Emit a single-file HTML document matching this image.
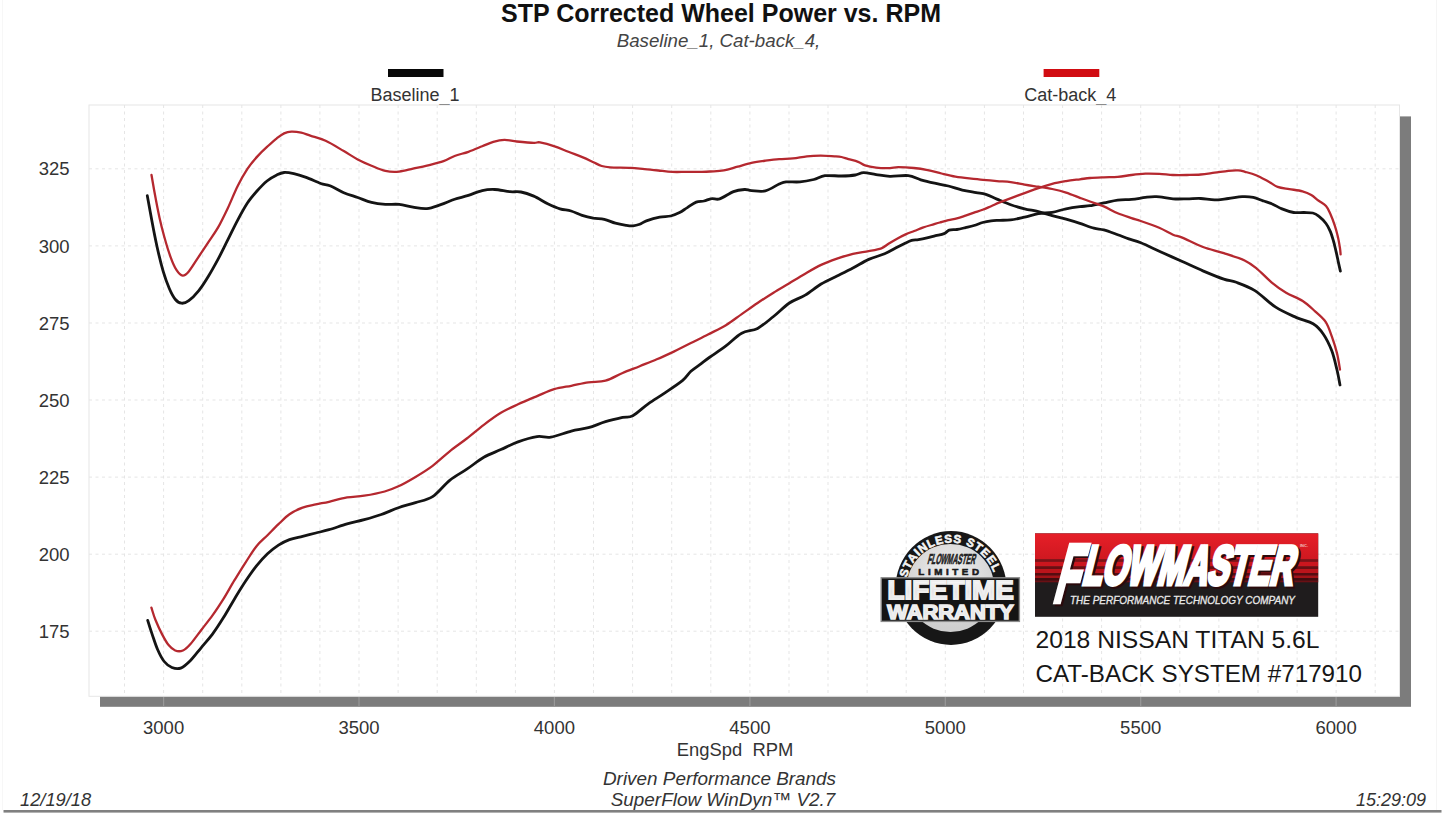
<!DOCTYPE html>
<html><head><meta charset="utf-8"><style>
html,body{margin:0;padding:0;background:#fff;}
body{width:1445px;height:819px;overflow:hidden;}
svg{display:block;font-family:"Liberation Sans",sans-serif;}
</style></head><body>
<svg width="1445" height="819" viewBox="0 0 1445 819">
<rect x="0" y="0" width="1445" height="819" fill="#fff"/>
<!-- titles -->
<text x="721" y="22" text-anchor="middle" font-weight="bold" font-size="25" fill="#111">STP Corrected Wheel Power vs. RPM</text>
<text x="718.5" y="46.5" text-anchor="middle" font-style="italic" font-size="18.7" fill="#444">Baseline_1, Cat-back_4,</text>
<!-- legend -->
<rect x="388" y="69" width="55.5" height="8" fill="#080808"/>
<text x="415" y="101" text-anchor="middle" font-size="18" fill="#333">Baseline_1</text>
<rect x="1043.6" y="69" width="55.7" height="8" fill="#d10c12"/>
<text x="1070.3" y="101" text-anchor="middle" font-size="18" fill="#333">Cat-back_4</text>
<!-- shadow -->
<rect x="100" y="116.4" width="1311" height="590.4" fill="#7c7c7c"/>
<g stroke="#989898" stroke-width="1.2"><line x1="163.6" y1="697" x2="163.6" y2="706"/><line x1="359.0" y1="697" x2="359.0" y2="706"/><line x1="554.4" y1="697" x2="554.4" y2="706"/><line x1="749.9" y1="697" x2="749.9" y2="706"/><line x1="945.3" y1="697" x2="945.3" y2="706"/><line x1="1140.7" y1="697" x2="1140.7" y2="706"/><line x1="1336.1" y1="697" x2="1336.1" y2="706"/></g>
<!-- plot -->
<rect x="89" y="105" width="1310.5" height="591.3" fill="#fff" stroke="#e6e6e6" stroke-width="1"/>
<g stroke="#e5e5e5" stroke-width="1" stroke-dasharray="3,3.5"><line x1="124.5" y1="105" x2="124.5" y2="696.3"/><line x1="163.6" y1="105" x2="163.6" y2="696.3"/><line x1="202.7" y1="105" x2="202.7" y2="696.3"/><line x1="241.8" y1="105" x2="241.8" y2="696.3"/><line x1="280.9" y1="105" x2="280.9" y2="696.3"/><line x1="319.9" y1="105" x2="319.9" y2="696.3"/><line x1="359.0" y1="105" x2="359.0" y2="696.3"/><line x1="398.1" y1="105" x2="398.1" y2="696.3"/><line x1="437.2" y1="105" x2="437.2" y2="696.3"/><line x1="476.3" y1="105" x2="476.3" y2="696.3"/><line x1="515.4" y1="105" x2="515.4" y2="696.3"/><line x1="554.4" y1="105" x2="554.4" y2="696.3"/><line x1="593.5" y1="105" x2="593.5" y2="696.3"/><line x1="632.6" y1="105" x2="632.6" y2="696.3"/><line x1="671.7" y1="105" x2="671.7" y2="696.3"/><line x1="710.8" y1="105" x2="710.8" y2="696.3"/><line x1="749.9" y1="105" x2="749.9" y2="696.3"/><line x1="789.0" y1="105" x2="789.0" y2="696.3"/><line x1="828.0" y1="105" x2="828.0" y2="696.3"/><line x1="867.1" y1="105" x2="867.1" y2="696.3"/><line x1="906.2" y1="105" x2="906.2" y2="696.3"/><line x1="945.3" y1="105" x2="945.3" y2="696.3"/><line x1="984.4" y1="105" x2="984.4" y2="696.3"/><line x1="1023.5" y1="105" x2="1023.5" y2="696.3"/><line x1="1062.6" y1="105" x2="1062.6" y2="696.3"/><line x1="1101.6" y1="105" x2="1101.6" y2="696.3"/><line x1="1140.7" y1="105" x2="1140.7" y2="696.3"/><line x1="1179.8" y1="105" x2="1179.8" y2="696.3"/><line x1="1218.9" y1="105" x2="1218.9" y2="696.3"/><line x1="1258.0" y1="105" x2="1258.0" y2="696.3"/><line x1="1297.1" y1="105" x2="1297.1" y2="696.3"/><line x1="1336.1" y1="105" x2="1336.1" y2="696.3"/><line x1="1375.2" y1="105" x2="1375.2" y2="696.3"/><line x1="89" y1="168.8" x2="1399.5" y2="168.8"/><line x1="89" y1="245.9" x2="1399.5" y2="245.9"/><line x1="89" y1="323.0" x2="1399.5" y2="323.0"/><line x1="89" y1="400.0" x2="1399.5" y2="400.0"/><line x1="89" y1="477.1" x2="1399.5" y2="477.1"/><line x1="89" y1="554.2" x2="1399.5" y2="554.2"/><line x1="89" y1="631.2" x2="1399.5" y2="631.2"/></g>
<g font-size="18.5" fill="#333"><text x="69.5" y="175.4" text-anchor="end">325</text><text x="69.5" y="252.5" text-anchor="end">300</text><text x="69.5" y="329.6" text-anchor="end">275</text><text x="69.5" y="406.6" text-anchor="end">250</text><text x="69.5" y="483.7" text-anchor="end">225</text><text x="69.5" y="560.8" text-anchor="end">200</text><text x="69.5" y="637.9" text-anchor="end">175</text></g>
<g font-size="18.5" fill="#333"><text x="163.6" y="734" text-anchor="middle">3000</text><text x="359.0" y="734" text-anchor="middle">3500</text><text x="554.4" y="734" text-anchor="middle">4000</text><text x="749.9" y="734" text-anchor="middle">4500</text><text x="945.3" y="734" text-anchor="middle">5000</text><text x="1140.7" y="734" text-anchor="middle">5500</text><text x="1336.1" y="734" text-anchor="middle">6000</text></g>
<text x="735" y="756" text-anchor="middle" font-size="18.4" fill="#333" xml:space="preserve">EngSpd  RPM</text>
<text x="719.5" y="785" text-anchor="middle" font-style="italic" font-size="18.9" fill="#333">Driven Performance Brands</text>
<text x="723" y="805.5" text-anchor="middle" font-style="italic" font-size="18.9" fill="#333">SuperFlow WinDyn™ V2.7</text>
<text x="20" y="806" font-style="italic" font-size="18.3" fill="#333">12/19/18</text>
<text x="1356" y="806" font-style="italic" font-size="18" fill="#333">15:29:09</text>
<rect x="3.5" y="810" width="1438" height="2.6" fill="#808080"/>
<rect x="1436" y="0" width="1" height="810" fill="#f5f5f5"/>
<rect x="2" y="0" width="1" height="810" fill="#f7f7f7"/>
<!-- curves -->
<g fill="none" stroke-linejoin="round" stroke-linecap="round">
<path d="M147.3,195.7 C148.1,200.2 150.6,214.0 152.2,222.6 C153.8,231.2 155.3,238.9 157.1,247.0 C158.9,255.1 161.2,264.5 163.2,271.4 C165.2,278.3 167.3,283.8 169.3,288.5 C171.3,293.2 173.4,297.1 175.4,299.5 C177.4,301.9 179.3,303.0 181.5,303.2 C183.7,303.4 186.0,302.8 188.8,300.7 C191.7,298.6 195.3,295.0 198.6,290.9 C201.9,286.8 205.2,281.6 208.4,276.3 C211.7,271.0 214.8,265.3 218.1,259.2 C221.3,253.1 224.6,246.2 227.9,239.7 C231.2,233.2 234.4,226.2 237.7,220.1 C240.9,214.0 244.2,207.9 247.4,203.0 C250.7,198.1 253.9,194.5 257.2,190.8 C260.5,187.1 263.7,183.7 267.0,181.0 C270.3,178.3 273.9,176.3 276.8,174.9 C279.7,173.5 281.3,172.7 284.1,172.5 C286.9,172.3 290.1,172.9 293.8,173.7 C297.5,174.5 301.6,175.8 306.1,177.4 C310.6,179.0 316.7,182.1 320.7,183.5 C324.7,184.9 326.1,184.2 330.0,185.7 C333.9,187.2 339.2,190.7 343.8,192.7 C348.4,194.7 353.1,195.9 357.7,197.5 C362.3,199.1 366.9,201.2 371.5,202.4 C376.1,203.6 380.8,204.1 385.4,204.4 C390.0,204.7 394.6,203.9 399.2,204.4 C403.8,204.9 408.4,206.5 413.0,207.2 C417.6,207.9 422.3,209.0 426.9,208.6 C431.5,208.2 436.1,206.2 440.7,204.7 C445.3,203.1 450.0,200.9 454.6,199.3 C459.2,197.8 463.8,196.9 468.4,195.4 C473.0,193.9 477.8,191.6 482.2,190.6 C486.6,189.6 490.1,189.3 494.7,189.5 C499.3,189.7 505.5,191.3 509.9,191.7 C514.3,192.1 517.0,191.3 521.0,192.0 C525.0,192.7 529.3,194.2 533.8,196.1 C538.2,198.0 543.3,201.6 547.7,203.7 C552.1,205.8 556.1,207.6 560.0,208.8 C563.9,210.0 567.4,209.9 571.1,211.0 C574.8,212.1 578.4,214.2 582.1,215.4 C585.8,216.6 589.5,217.5 593.2,218.2 C596.9,218.8 600.6,218.5 604.3,219.3 C608.0,220.1 611.7,222.2 615.4,223.2 C619.1,224.2 623.4,224.9 626.4,225.4 C629.4,225.9 630.9,226.1 633.1,225.9 C635.3,225.7 637.5,225.1 639.7,224.3 C641.9,223.5 643.1,222.1 646.4,220.9 C649.7,219.7 655.7,217.9 659.7,217.1 C663.8,216.3 667.4,216.8 670.7,216.0 C674.0,215.2 676.8,214.0 679.6,212.6 C682.4,211.2 684.5,209.3 687.3,207.6 C690.1,205.8 693.4,203.2 696.2,202.1 C699.0,201.0 701.4,201.6 704.0,201.0 C706.6,200.4 709.1,198.9 711.7,198.6 C714.3,198.2 716.1,200.1 719.7,198.9 C723.3,197.7 729.4,193.2 733.5,191.6 C737.6,190.0 741.6,189.7 744.6,189.5 C747.6,189.3 748.0,190.4 751.5,190.6 C755.0,190.8 760.8,192.0 765.4,190.9 C770.0,189.8 775.8,185.5 779.2,184.0 C782.7,182.5 782.6,182.2 786.1,181.9 C789.6,181.6 795.4,182.3 800.0,181.9 C804.6,181.5 809.6,180.5 813.8,179.5 C817.9,178.5 820.3,176.3 824.9,175.7 C829.5,175.1 836.4,176.1 841.5,176.0 C846.6,175.9 851.6,175.6 855.3,175.0 C859.0,174.4 860.1,172.7 863.6,172.6 C867.1,172.5 871.7,174.0 876.1,174.6 C880.5,175.2 884.5,176.2 889.9,176.4 C895.3,176.6 903.1,175.0 908.3,175.6 C913.4,176.2 916.4,178.5 920.8,179.8 C925.2,181.1 930.0,182.2 934.6,183.2 C939.2,184.2 943.8,184.8 948.4,186.0 C953.0,187.2 957.7,189.0 962.3,190.1 C966.9,191.2 972.2,191.9 976.1,192.6 C980.0,193.3 982.3,193.2 985.8,194.3 C989.3,195.4 992.8,197.4 996.9,199.1 C1001.0,200.8 1006.1,203.1 1010.7,204.7 C1015.3,206.3 1020.0,207.7 1024.6,208.8 C1029.2,210.0 1033.8,210.4 1038.4,211.6 C1043.0,212.8 1047.6,214.4 1052.2,215.7 C1056.8,217.0 1061.5,217.9 1066.1,219.2 C1070.7,220.5 1075.3,221.9 1079.9,223.4 C1084.5,224.9 1089.8,227.1 1093.8,228.2 C1097.8,229.3 1099.8,228.8 1103.8,229.9 C1107.8,231.0 1113.5,233.2 1117.7,234.7 C1121.9,236.2 1125.0,237.6 1128.8,238.9 C1132.6,240.2 1135.3,240.6 1140.8,242.8 C1146.2,245.0 1154.6,249.1 1161.5,252.2 C1168.4,255.3 1175.4,258.4 1182.3,261.5 C1189.2,264.6 1196.1,267.9 1203.0,270.9 C1209.9,273.8 1218.2,277.3 1223.8,279.2 C1229.3,281.1 1231.1,280.4 1236.3,282.3 C1241.5,284.2 1248.3,286.5 1254.9,290.6 C1261.5,294.8 1268.8,302.7 1275.7,307.2 C1282.6,311.7 1290.3,314.8 1296.5,317.6 C1302.7,320.4 1308.6,321.0 1313.1,323.8 C1317.6,326.6 1320.3,329.7 1323.4,334.2 C1326.5,338.7 1329.5,344.9 1331.8,350.8 C1334.0,356.7 1335.5,363.8 1336.9,369.5 C1338.3,375.2 1339.5,382.4 1340.0,385.0" stroke="#141414" stroke-width="2.8"/>
<path d="M147.7,620.4 C148.4,622.7 150.4,629.2 152.1,634.1 C153.8,639.0 155.6,644.9 157.6,649.5 C159.6,654.1 161.8,658.5 164.2,661.5 C166.6,664.5 169.2,666.4 171.9,667.5 C174.7,668.6 177.6,669.3 180.7,668.1 C183.8,666.9 187.0,663.9 190.5,660.4 C194.0,656.9 197.8,651.7 201.5,647.3 C205.2,642.9 208.8,639.0 212.5,634.1 C216.2,629.2 219.8,623.5 223.5,617.6 C227.2,611.7 230.8,605.0 234.5,598.9 C238.2,592.8 241.8,586.8 245.5,581.3 C249.2,575.8 252.8,570.5 256.5,565.9 C260.2,561.3 263.8,557.3 267.5,553.8 C271.2,550.3 274.8,547.5 278.5,545.1 C282.2,542.7 285.5,541.1 289.5,539.6 C293.5,538.1 298.2,537.4 302.6,536.3 C307.0,535.2 311.4,534.1 315.8,533.0 C320.2,531.9 323.8,531.2 329.0,529.7 C334.2,528.2 341.2,525.6 347.1,523.9 C353.0,522.2 358.5,521.3 364.2,519.7 C369.9,518.1 375.6,516.5 381.3,514.5 C387.0,512.5 392.7,509.7 398.4,507.7 C404.1,505.7 409.8,504.5 415.5,502.6 C421.2,500.8 426.9,500.3 432.6,496.6 C438.3,492.9 444.0,484.9 449.7,480.3 C455.4,475.7 461.1,473.0 466.8,469.2 C472.5,465.4 478.1,460.6 483.8,457.3 C489.5,454.0 495.2,452.2 500.9,449.6 C506.6,447.0 512.0,444.1 518.0,441.9 C524.0,439.7 531.6,437.4 537.1,436.6 C542.6,435.8 545.1,438.0 550.8,437.1 C556.5,436.2 565.0,432.7 571.3,431.1 C577.6,429.5 582.7,429.3 588.4,427.7 C594.1,426.1 599.8,423.4 605.5,421.7 C611.2,420.0 618.1,418.4 622.6,417.4 C627.1,416.4 628.5,418.0 632.8,415.7 C637.1,413.4 642.8,407.6 648.2,403.8 C653.6,400.0 659.6,396.5 665.3,392.6 C671.0,388.8 678.1,384.2 682.4,380.7 C686.7,377.1 687.8,374.1 690.9,371.3 C694.0,368.5 698.0,366.0 701.2,363.6 C704.4,361.2 705.9,359.9 710.0,357.0 C714.1,354.1 720.6,349.9 725.9,345.9 C731.2,341.9 736.4,336.1 741.7,333.2 C747.0,330.3 752.3,331.2 757.6,328.4 C762.9,325.6 768.2,320.7 773.5,316.5 C778.8,312.3 784.1,306.6 789.4,303.0 C794.7,299.4 799.9,298.3 805.2,295.1 C810.5,291.9 815.8,287.2 821.1,284.0 C826.4,280.8 831.7,278.6 837.0,276.0 C842.3,273.4 847.6,270.9 852.9,268.1 C858.2,265.3 863.4,261.8 868.7,259.4 C874.0,257.0 879.9,255.8 884.6,253.8 C889.3,251.8 893.6,249.1 897.1,247.3 C900.6,245.5 903.2,244.2 905.6,243.0 C908.0,241.8 909.5,241.0 911.6,240.4 C913.8,239.8 915.9,240.0 918.5,239.6 C921.1,239.2 924.1,238.6 927.0,237.9 C929.9,237.2 932.8,236.4 935.6,235.7 C938.5,235.0 941.8,234.5 944.1,233.6 C946.4,232.7 947.1,230.9 949.2,230.2 C951.3,229.5 954.2,229.9 956.9,229.5 C959.6,229.1 962.6,228.3 965.5,227.6 C968.4,226.9 971.1,226.3 974.0,225.5 C976.9,224.7 979.8,223.3 982.6,222.5 C985.5,221.7 988.2,221.2 991.1,220.8 C994.0,220.4 996.7,220.5 1000.0,220.3 C1003.3,220.2 1006.6,220.4 1010.7,219.9 C1014.8,219.4 1020.0,218.1 1024.6,217.1 C1029.2,216.1 1033.8,214.5 1038.4,213.7 C1043.0,212.9 1047.6,213.1 1052.2,212.3 C1056.8,211.5 1061.5,209.7 1066.1,208.8 C1070.7,207.9 1075.9,207.2 1079.9,206.7 C1083.9,206.2 1086.0,206.3 1090.0,205.7 C1094.0,205.1 1099.2,203.8 1103.8,202.9 C1108.4,202.0 1113.1,200.7 1117.7,200.1 C1122.3,199.5 1126.9,199.8 1131.5,199.4 C1136.1,199.0 1141.2,197.9 1145.4,197.4 C1149.6,196.9 1151.8,196.5 1156.4,196.7 C1161.0,196.9 1167.9,198.5 1173.0,198.8 C1178.1,199.2 1182.3,198.9 1186.9,198.8 C1191.5,198.8 1196.1,198.3 1200.7,198.5 C1205.3,198.7 1210.0,199.9 1214.6,199.9 C1219.2,199.9 1223.8,199.0 1228.4,198.5 C1233.0,198.0 1238.1,196.9 1242.2,196.7 C1246.3,196.5 1249.8,196.7 1253.3,197.4 C1256.8,198.1 1259.9,199.8 1263.0,200.8 C1266.1,201.9 1268.5,202.3 1271.7,203.7 C1274.9,205.0 1278.3,207.4 1282.0,208.9 C1285.7,210.4 1290.0,211.9 1293.7,212.5 C1297.4,213.1 1300.8,212.4 1304.0,212.5 C1307.2,212.6 1310.3,212.4 1312.8,213.0 C1315.2,213.6 1316.5,214.4 1318.7,216.2 C1320.9,217.9 1324.0,220.9 1326.0,223.5 C1328.0,226.1 1329.2,228.8 1330.4,231.6 C1331.6,234.4 1332.3,237.0 1333.3,240.4 C1334.3,243.8 1335.3,248.4 1336.2,252.1 C1337.1,255.8 1337.7,259.2 1338.4,262.4 C1339.1,265.6 1340.1,269.7 1340.4,271.2" stroke="#141414" stroke-width="2.8"/>
<path d="M151.5,175.0 C152.0,178.1 153.4,186.2 154.7,193.3 C156.0,200.4 157.9,210.4 159.5,217.7 C161.1,225.0 162.6,230.7 164.4,237.2 C166.2,243.7 168.5,251.3 170.5,256.8 C172.5,262.3 174.6,267.1 176.6,270.2 C178.6,273.3 180.7,275.4 182.7,275.6 C184.7,275.8 186.2,274.5 188.8,271.4 C191.5,268.3 195.3,261.7 198.6,256.8 C201.9,251.9 205.2,247.0 208.4,242.1 C211.7,237.2 214.8,233.1 218.1,227.4 C221.3,221.7 224.6,214.8 227.9,207.9 C231.2,201.0 234.4,192.4 237.7,185.9 C240.9,179.4 244.2,173.7 247.4,168.8 C250.7,163.9 253.9,160.2 257.2,156.6 C260.5,152.9 263.7,149.9 267.0,146.9 C270.3,143.9 273.9,140.6 276.8,138.3 C279.7,136.1 281.7,134.5 284.1,133.4 C286.5,132.3 288.5,131.8 291.4,131.7 C294.2,131.6 297.9,132.0 301.2,132.7 C304.4,133.4 306.8,134.6 310.9,135.9 C315.0,137.2 320.1,138.3 325.6,140.8 C331.1,143.3 338.5,148.0 343.8,151.1 C349.1,154.2 353.1,157.0 357.7,159.4 C362.3,161.8 366.9,163.8 371.5,165.7 C376.1,167.6 380.8,169.9 385.4,170.9 C390.0,171.9 394.6,172.0 399.2,171.6 C403.8,171.2 408.4,169.7 413.0,168.7 C417.6,167.7 421.8,166.9 426.9,165.7 C432.0,164.4 438.9,162.8 443.5,161.2 C448.1,159.6 450.5,157.6 454.6,156.0 C458.8,154.4 463.8,153.4 468.4,151.8 C473.0,150.2 478.0,148.0 482.2,146.3 C486.4,144.7 489.6,143.0 493.3,141.9 C497.0,140.8 500.5,139.9 504.4,139.8 C508.3,139.7 511.9,141.0 516.8,141.5 C521.7,142.0 529.9,142.8 533.8,142.9 C537.7,143.1 536.5,141.8 540.0,142.4 C543.5,143.0 549.9,144.7 554.6,146.3 C559.3,147.9 563.8,150.0 568.4,151.8 C573.0,153.6 578.1,155.4 582.3,157.1 C586.5,158.8 590.2,160.7 593.4,162.2 C596.6,163.7 598.9,165.2 601.7,166.0 C604.5,166.8 605.2,167.0 610.0,167.3 C614.8,167.6 624.9,167.5 630.7,167.8 C636.5,168.1 640.0,168.7 644.6,169.1 C649.2,169.5 653.8,170.0 658.4,170.5 C663.0,171.0 667.6,171.7 672.2,171.9 C676.8,172.1 681.5,171.9 686.1,171.9 C690.7,171.9 695.9,172.0 699.9,171.9 C703.9,171.8 706.0,171.8 710.0,171.5 C714.0,171.2 719.2,171.2 723.8,170.4 C728.4,169.6 733.1,167.9 737.7,166.7 C742.3,165.4 746.9,163.9 751.5,162.9 C756.1,161.9 760.8,161.3 765.4,160.7 C770.0,160.1 774.6,159.5 779.2,159.1 C783.8,158.7 788.4,158.9 793.0,158.4 C797.6,157.9 802.3,156.8 806.9,156.3 C811.5,155.8 816.1,155.6 820.7,155.6 C825.3,155.6 831.1,156.1 834.6,156.3 C838.1,156.5 839.2,156.5 841.5,157.0 C843.8,157.5 845.6,158.3 848.4,159.1 C851.2,159.9 855.3,160.8 858.1,161.8 C860.9,162.8 862.0,164.3 865.0,165.3 C868.0,166.3 872.0,167.1 876.1,167.6 C880.2,168.1 886.2,168.2 889.9,168.1 C893.6,168.0 894.2,167.1 898.2,167.1 C902.2,167.1 908.9,167.5 913.8,168.0 C918.7,168.5 923.1,169.2 927.7,170.1 C932.3,171.0 936.9,172.4 941.5,173.5 C946.1,174.6 950.8,175.8 955.4,176.6 C960.0,177.4 964.6,177.9 969.2,178.4 C973.8,178.9 978.4,179.4 983.0,179.8 C987.6,180.2 992.3,180.7 996.9,181.1 C1001.5,181.5 1006.1,181.5 1010.7,182.1 C1015.3,182.7 1020.0,183.8 1024.6,184.6 C1029.2,185.4 1033.8,186.0 1038.4,186.7 C1043.0,187.4 1047.6,188.0 1052.2,189.0 C1056.8,190.0 1061.5,191.1 1066.1,192.6 C1070.7,194.1 1075.9,196.3 1079.9,197.8 C1083.9,199.3 1086.0,200.1 1090.0,201.5 C1094.0,202.9 1099.2,204.4 1103.8,206.4 C1108.4,208.4 1113.1,211.4 1117.7,213.3 C1122.3,215.2 1127.7,216.8 1131.5,218.1 C1135.3,219.4 1136.2,219.4 1140.8,221.0 C1145.4,222.6 1153.8,225.5 1159.2,227.8 C1164.6,230.1 1169.2,233.1 1173.0,234.7 C1176.8,236.3 1177.3,235.5 1182.3,237.6 C1187.3,239.7 1196.1,244.4 1203.0,247.0 C1209.9,249.6 1216.9,250.9 1223.8,253.2 C1230.7,255.4 1239.1,257.9 1244.6,260.5 C1250.1,263.1 1252.5,265.2 1257.0,268.8 C1261.5,272.4 1266.7,278.3 1271.5,282.3 C1276.3,286.3 1280.9,289.6 1286.1,292.7 C1291.3,295.8 1297.9,297.9 1302.7,301.0 C1307.5,304.1 1311.3,307.9 1315.1,311.3 C1318.9,314.8 1322.7,317.5 1325.5,321.7 C1328.3,325.9 1329.9,331.1 1331.8,336.3 C1333.7,341.5 1335.5,347.4 1336.9,352.9 C1338.3,358.4 1339.5,366.7 1340.0,369.5" stroke="#b5282f" stroke-width="2.3"/>
<path d="M151.4,607.7 C152.1,609.7 153.6,615.4 155.4,619.8 C157.2,624.2 159.8,629.9 162.0,634.1 C164.2,638.3 166.4,642.4 168.6,645.1 C170.8,647.8 172.8,649.6 175.2,650.5 C177.6,651.4 180.3,651.6 182.9,650.5 C185.5,649.4 187.4,647.5 190.5,644.0 C193.6,640.5 197.8,634.5 201.5,629.7 C205.2,624.9 208.8,620.5 212.5,615.4 C216.2,610.3 219.8,604.8 223.5,598.9 C227.2,593.0 230.8,586.2 234.5,580.2 C238.2,574.2 241.8,568.3 245.5,562.6 C249.2,556.9 252.8,550.8 256.5,546.2 C260.2,541.6 263.8,538.9 267.5,535.2 C271.2,531.5 274.8,527.7 278.5,524.2 C282.2,520.7 285.5,517.0 289.5,514.3 C293.5,511.5 298.2,509.3 302.6,507.7 C307.0,506.1 311.4,505.4 315.8,504.4 C320.2,503.4 323.8,503.0 329.0,501.8 C334.2,500.6 341.2,498.4 347.1,497.4 C353.0,496.4 357.9,496.7 364.2,495.7 C370.5,494.7 379.0,493.1 384.7,491.5 C390.4,489.9 393.3,488.7 398.4,486.3 C403.5,483.9 409.8,480.3 415.5,476.9 C421.2,473.5 426.9,470.1 432.6,465.8 C438.3,461.5 444.0,455.9 449.7,451.3 C455.4,446.8 461.1,442.9 466.8,438.5 C472.5,434.1 478.1,429.1 483.8,424.8 C489.5,420.5 495.2,416.2 500.9,412.8 C506.6,409.4 512.0,407.1 518.0,404.3 C524.0,401.5 531.1,398.6 537.1,396.1 C543.1,393.6 548.5,390.9 554.2,389.2 C559.9,387.5 565.6,386.9 571.3,385.8 C577.0,384.7 582.7,383.2 588.4,382.4 C594.1,381.5 599.8,382.3 605.5,380.7 C611.2,379.1 616.9,375.4 622.6,373.0 C628.3,370.6 634.0,368.5 639.7,366.2 C645.4,363.9 651.1,361.7 656.8,359.3 C662.5,356.9 668.1,354.3 673.8,351.6 C679.5,348.9 685.2,346.0 690.9,343.1 C696.6,340.2 702.2,337.5 708.0,334.5 C713.8,331.5 720.3,328.6 725.9,325.2 C731.5,321.8 736.4,317.8 741.7,314.1 C747.0,310.4 752.3,306.6 757.6,303.0 C762.9,299.4 768.2,296.0 773.5,292.7 C778.8,289.4 784.1,286.4 789.4,283.2 C794.7,280.0 799.9,276.8 805.2,273.7 C810.5,270.6 815.8,267.4 821.1,264.9 C826.4,262.4 831.7,260.5 837.0,258.6 C842.3,256.8 847.6,255.1 852.9,253.8 C858.2,252.6 864.0,252.0 868.7,251.1 C873.5,250.2 878.1,249.5 881.4,248.3 C884.7,247.1 885.9,245.4 888.5,243.8 C891.1,242.2 894.2,240.3 897.1,238.7 C900.0,237.1 902.8,235.7 905.6,234.4 C908.5,233.1 911.4,232.1 914.2,231.0 C917.1,229.9 919.9,228.6 922.7,227.6 C925.6,226.6 928.4,225.8 931.3,225.0 C934.1,224.2 936.9,223.3 939.8,222.5 C942.6,221.7 945.5,220.8 948.4,220.1 C951.2,219.4 954.0,219.2 956.9,218.4 C959.8,217.7 962.6,216.6 965.5,215.6 C968.4,214.6 971.1,213.6 974.0,212.6 C976.9,211.6 979.8,210.8 982.6,209.7 C985.5,208.6 988.2,207.4 991.1,206.2 C994.0,205.0 995.3,204.2 999.7,202.4 C1004.1,200.7 1011.1,198.1 1017.6,195.7 C1024.0,193.3 1032.6,190.1 1038.4,188.1 C1044.2,186.1 1047.6,185.1 1052.2,183.9 C1056.8,182.7 1061.5,181.9 1066.1,181.1 C1070.7,180.3 1075.9,179.8 1079.9,179.3 C1083.9,178.8 1086.0,178.3 1090.0,178.0 C1094.0,177.7 1099.2,177.5 1103.8,177.3 C1108.4,177.1 1113.1,177.3 1117.7,176.9 C1122.3,176.5 1126.9,175.6 1131.5,175.0 C1136.1,174.4 1140.8,173.8 1145.4,173.6 C1150.0,173.4 1154.6,173.6 1159.2,173.8 C1163.8,174.0 1168.4,174.8 1173.0,175.0 C1177.6,175.2 1182.3,175.1 1186.9,175.0 C1191.5,174.9 1196.1,174.9 1200.7,174.5 C1205.3,174.1 1210.0,173.3 1214.6,172.7 C1219.2,172.1 1224.5,171.2 1228.4,170.8 C1232.3,170.4 1235.3,170.2 1238.1,170.4 C1240.9,170.6 1242.0,171.0 1245.0,171.8 C1248.0,172.6 1252.1,173.5 1256.1,175.2 C1260.1,176.8 1265.2,179.8 1268.8,181.7 C1272.4,183.6 1274.2,185.7 1277.6,186.9 C1281.0,188.1 1285.1,188.4 1289.3,189.1 C1293.5,189.8 1298.8,190.3 1302.5,191.3 C1306.2,192.3 1308.6,193.3 1311.3,194.9 C1314.0,196.5 1316.2,199.0 1318.7,200.8 C1321.2,202.6 1324.0,203.7 1326.0,205.9 C1328.0,208.1 1328.9,210.7 1330.4,214.0 C1331.9,217.3 1333.6,222.0 1334.8,225.7 C1336.0,229.4 1336.8,232.3 1337.7,236.0 C1338.6,239.7 1339.4,244.6 1339.9,247.7 C1340.4,250.8 1340.5,253.2 1340.6,254.3" stroke="#b5282f" stroke-width="2.3"/>
</g>

<defs>
<linearGradient id="fmred" x1="0" y1="0" x2="0" y2="1">
<stop offset="0" stop-color="#e61f28"/><stop offset="1" stop-color="#cf1820"/>
</linearGradient>
<radialGradient id="bgray" cx="0.5" cy="0.35" r="0.6">
<stop offset="0" stop-color="#f0f0f0"/><stop offset="1" stop-color="#cfcfcf"/>
</radialGradient>
<linearGradient id="metal" x1="0" y1="0" x2="0" y2="1">
<stop offset="0" stop-color="#ffffff"/><stop offset="0.55" stop-color="#e4e4e4"/><stop offset="1" stop-color="#f4f4f4"/>
</linearGradient>
<path id="ringarc" d="M906.86,577.81 A45.3,45.3 0 0 1 995.14,577.81"/>
</defs>
<!-- warranty badge -->
<g>
<ellipse cx="951" cy="588" rx="55.5" ry="56.9" fill="#171717"/>
<circle cx="950.5" cy="588" r="44" fill="url(#bgray)"/>
<text font-size="11.6" font-weight="bold" fill="#f4f4f4" stroke="#f4f4f4" stroke-width="0.6"><textPath href="#ringarc" textLength="116" lengthAdjust="spacing">STAINLESS STEEL</textPath></text>
<text transform="translate(927,563.8) skewX(-14) scale(0.46,1)" font-size="14.5" font-weight="bold" fill="#222" stroke="#222" stroke-width="0.6">FLOWMASTER</text>
<text x="950.5" y="575.2" text-anchor="middle" font-size="9.8" font-weight="bold" fill="#1a1a1a" stroke="#1a1a1a" stroke-width="0.6" letter-spacing="3.6">LIMITED</text>
<rect x="881.2" y="577.8" width="138.2" height="43.6" fill="#141414" stroke="#8c8c8c" stroke-width="1.4"/>
<text x="887.6" y="599.3" font-size="25" font-weight="bold" fill="url(#metal)" stroke="#efefef" stroke-width="1.8" textLength="126" lengthAdjust="spacingAndGlyphs">LIFETIME</text>
<text x="887.2" y="618.6" font-size="20.5" font-weight="bold" fill="url(#metal)" stroke="#efefef" stroke-width="1.6" textLength="126.5" lengthAdjust="spacingAndGlyphs">WARRANTY</text>
</g>
<!-- flowmaster logo -->
<g>
<rect x="1035" y="533.4" width="283.2" height="83.4" fill="#1f1c1d"/>
<rect x="1035" y="533.4" width="283.2" height="26.2" fill="url(#fmred)"/>
<rect x="1035" y="559.6" width="283.2" height="2" fill="#7d1217"/>
<rect x="1035" y="561.6" width="283.2" height="5" fill="#cb161e"/>
<rect x="1035" y="566.6" width="283.2" height="2.4" fill="#6a0f13"/>
<rect x="1035" y="569" width="283.2" height="4" fill="#bb141b"/>
<rect x="1035" y="573" width="283.2" height="2.4" fill="#560c10"/>
<rect x="1035" y="575.4" width="283.2" height="2.8" fill="#a21217"/>
<rect x="1035" y="578.2" width="283.2" height="2.3" fill="#440a0d"/>
<rect x="1035" y="580.5" width="283.2" height="1.8" fill="#6a1014"/>
<g font-weight="bold">
<text transform="translate(1053.8,603.8) skewX(-15) scale(0.48,1)" font-size="83" fill="#2a0a0c" stroke="#2a0a0c" stroke-width="4.4">F</text>
<text transform="translate(1083.3,585.8) skewX(-14) scale(0.59,1)" font-size="54.4" fill="#2a0a0c" stroke="#2a0a0c" stroke-width="4.8">LOWMASTER</text>
<text transform="translate(1051.8,602.1) skewX(-15) scale(0.48,1)" font-size="83" fill="#fff" stroke="#fff" stroke-width="4.4">F</text>
<text transform="translate(1081.3,584.1) skewX(-14) scale(0.59,1)" font-size="54.4" fill="#fff" stroke="#fff" stroke-width="4.8">LOWMASTER</text>
</g>
<text x="1300" y="547" font-size="4" font-weight="bold" fill="#f0c0c0">INC.</text>
<text x="1070" y="603.8" font-size="10.2" font-style="italic" fill="#e8e8e8" stroke="#e8e8e8" stroke-width="0.3" textLength="225" lengthAdjust="spacingAndGlyphs">THE PERFORMANCE TECHNOLOGY COMPANY</text>
</g>
<text x="1035.5" y="648.2" font-size="24.6" fill="#161616" textLength="284" lengthAdjust="spacingAndGlyphs">2018 NISSAN TITAN 5.6L</text>
<text x="1035.5" y="681.6" font-size="24.2" fill="#161616" textLength="326.5" lengthAdjust="spacingAndGlyphs">CAT-BACK SYSTEM #717910</text>

</svg>
</body></html>
